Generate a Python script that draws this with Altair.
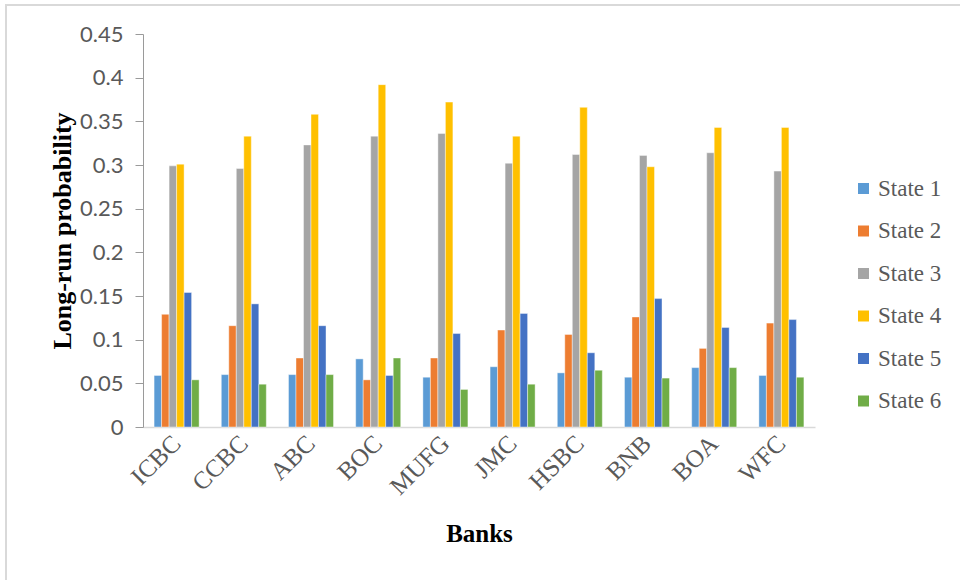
import altair as alt
import pandas as pd

banks = ["ICBC", "CCBC", "ABC", "BOC", "MUFG", "JMC", "HSBC", "BNB", "BOA", "WFC"]
states = ["State 1", "State 2", "State 3", "State 4", "State 5", "State 6"]
state1 = [0.059, 0.060, 0.060, 0.078, 0.057, 0.069, 0.062, 0.057, 0.068, 0.059]
state2 = [0.129, 0.116, 0.079, 0.054, 0.079, 0.111, 0.106, 0.126, 0.090, 0.119]
state3 = [0.299, 0.296, 0.323, 0.333, 0.336, 0.302, 0.312, 0.311, 0.314, 0.293]
state4 = [0.301, 0.333, 0.358, 0.392, 0.372, 0.333, 0.366, 0.298, 0.343, 0.343]
state5 = [0.154, 0.141, 0.116, 0.059, 0.107, 0.130, 0.085, 0.147, 0.114, 0.123]
state6 = [0.054, 0.049, 0.060, 0.079, 0.043, 0.049, 0.065, 0.056, 0.068, 0.057]
colors = ["#5B9BD5", "#ED7D31", "#A5A5A5", "#FFC000", "#4472C4", "#70AD47"]

series = [state1, state2, state3, state4, state5, state6]
rows = []
for s, vals in zip(states, series):
    for b, v in zip(banks, vals):
        rows.append({"Bank": b, "State": s, "Value": v})
df = pd.DataFrame(rows)

W, H = 672, 393

bars = alt.Chart(df).mark_bar(stroke="white", strokeWidth=0.6, strokeOpacity=0.7).encode(
    x=alt.X("Bank:N", sort=banks,
            scale=alt.Scale(paddingInner=0.33, paddingOuter=0.165),
            axis=alt.Axis(title="Banks", labelAngle=-45, labelAlign="right",
                          labelBaseline="middle", labelFont="Liberation Serif",
                          labelFontSize=25, labelColor="#595959", labelPadding=12,
                          ticks=False, domainColor="#D9D9D9", domainWidth=1.5,
                          titleFont="Liberation Serif", titleFontSize=25,
                          titleFontWeight="bold", titleColor="black",
                          titleY=106, titleBaseline="middle")),
    xOffset=alt.XOffset("State:N", sort=states, scale=alt.Scale(paddingInner=0, paddingOuter=0)),
    y=alt.Y("Value:Q",
            scale=alt.Scale(domain=[0, 0.45], nice=False),
            axis=alt.Axis(title="Long-run probability", values=[0, 0.05, 0.1, 0.15, 0.2, 0.25, 0.3, 0.35, 0.4, 0.45],
                          format="~g", grid=False, labelFont="Lato", labelFontSize=22,
                          labelColor="#595959", labelPadding=12, tickSize=8,
                          tickColor="#9A9A9A", domainColor="#9A9A9A",
                          titleFont="Liberation Serif", titleFontSize=26,
                          titleFontWeight="bold", titleColor="black",
                          titleX=-81, titleY=H / 2, titleAngle=270,
                          titleAlign="center", titleBaseline="middle")),
    color=alt.Color("State:N", sort=states,
                    scale=alt.Scale(domain=states, range=colors),
                    legend=alt.Legend(title=None, orient="none", legendX=709, legendY=143,
                                      symbolType="square", symbolSize=121,
                                      symbolStrokeWidth=0, labelFont="Liberation Serif",
                                      labelFontSize=23, labelColor="#595959",
                                      rowPadding=18.5, labelOffset=3)),
)

frame_top = alt.Chart(pd.DataFrame({"a": [0]})).mark_rule(color="#D9D9D9", strokeWidth=2).encode(
    x=alt.value(-138), x2=alt.value(820), y=alt.value(-29))
frame_left = alt.Chart(pd.DataFrame({"a": [0]})).mark_rule(color="#D9D9D9", strokeWidth=2).encode(
    x=alt.value(-137), y=alt.value(-29), y2=alt.value(550))

chart = alt.layer(frame_top, frame_left, bars).properties(
    width=W, height=H,
    autosize=alt.AutoSizeParams(type="none"),
    padding={"left": 143, "top": 34, "right": 145, "bottom": 153},
    background="white",
).configure_view(stroke=None)

chart.save("out.html", embed_options={"renderer": "svg", "actions": False})
